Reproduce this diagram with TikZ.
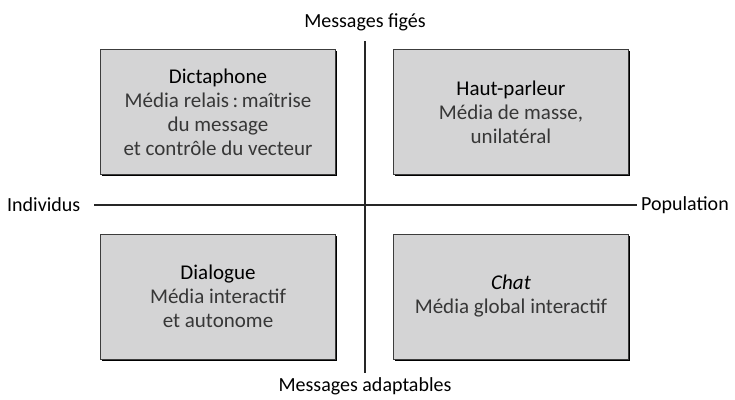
\documentclass[tikz,border=0pt]{standalone}
\usepackage{fontspec}
\setmainfont{Carlito}
\usetikzlibrary{shadows}
\definecolor{boxfill}{RGB}{212,212,213}
\definecolor{boxline}{RGB}{60,60,60}
\definecolor{bodytext}{RGB}{55,55,55}
\tikzset{
  quad/.style={draw=boxline, line width=0.8pt, fill=boxfill,
    minimum width=235pt, minimum height=125pt, inner sep=0pt,
    align=center, text=bodytext,
    font=\fontsize{21}{24}\selectfont,
    drop shadow={shadow xshift=1.6pt, shadow yshift=-1.6pt, fill=black, opacity=1}},
  axislabel/.style={font=\fontsize{20}{24}\selectfont, text=black, inner sep=0pt},
  axisline/.style={draw=black!85, line width=1.1pt}
}
\begin{document}
\begin{tikzpicture}[x=1pt,y=-1pt]
\useasboundingbox (0,0) rectangle (735,399);
\node[quad] (dicta) at (218,112) {\textcolor{black}{Dictaphone}\\Média relais\,:\,maîtrise\\du message\\et contrôle du vecteur};
\node[quad] (haut) at (511,112) {\textcolor{black}{Haut-parleur}\\Média de masse,\\unilatéral};
\node[quad] (dial) at (218,296.5) {\textcolor{black}{Dialogue}\\Média interactif\\et autonome};
\node[quad] (chat) at (511,296.5) {\textcolor{black}{\itshape Chat}\\Média global interactif};
\node[axislabel] (fig) at (365,22) {Messages figés};
\node[axislabel] (adapt) at (365,386) {Messages adaptables};
\node[axislabel, anchor=west] (indiv) at (7,205) {Individus};
\node[axislabel, anchor=east] (pop) at (729,205) {Population};
\coordinate (vtop) at (365,41);
\coordinate (vbot) at (365,373);
\coordinate (hleft) at (94,205);
\coordinate (hright) at (637,205);
\draw[axisline] (vtop) -- (vbot);
\draw[axisline] (hleft) -- (hright);
\end{tikzpicture}
\end{document}
